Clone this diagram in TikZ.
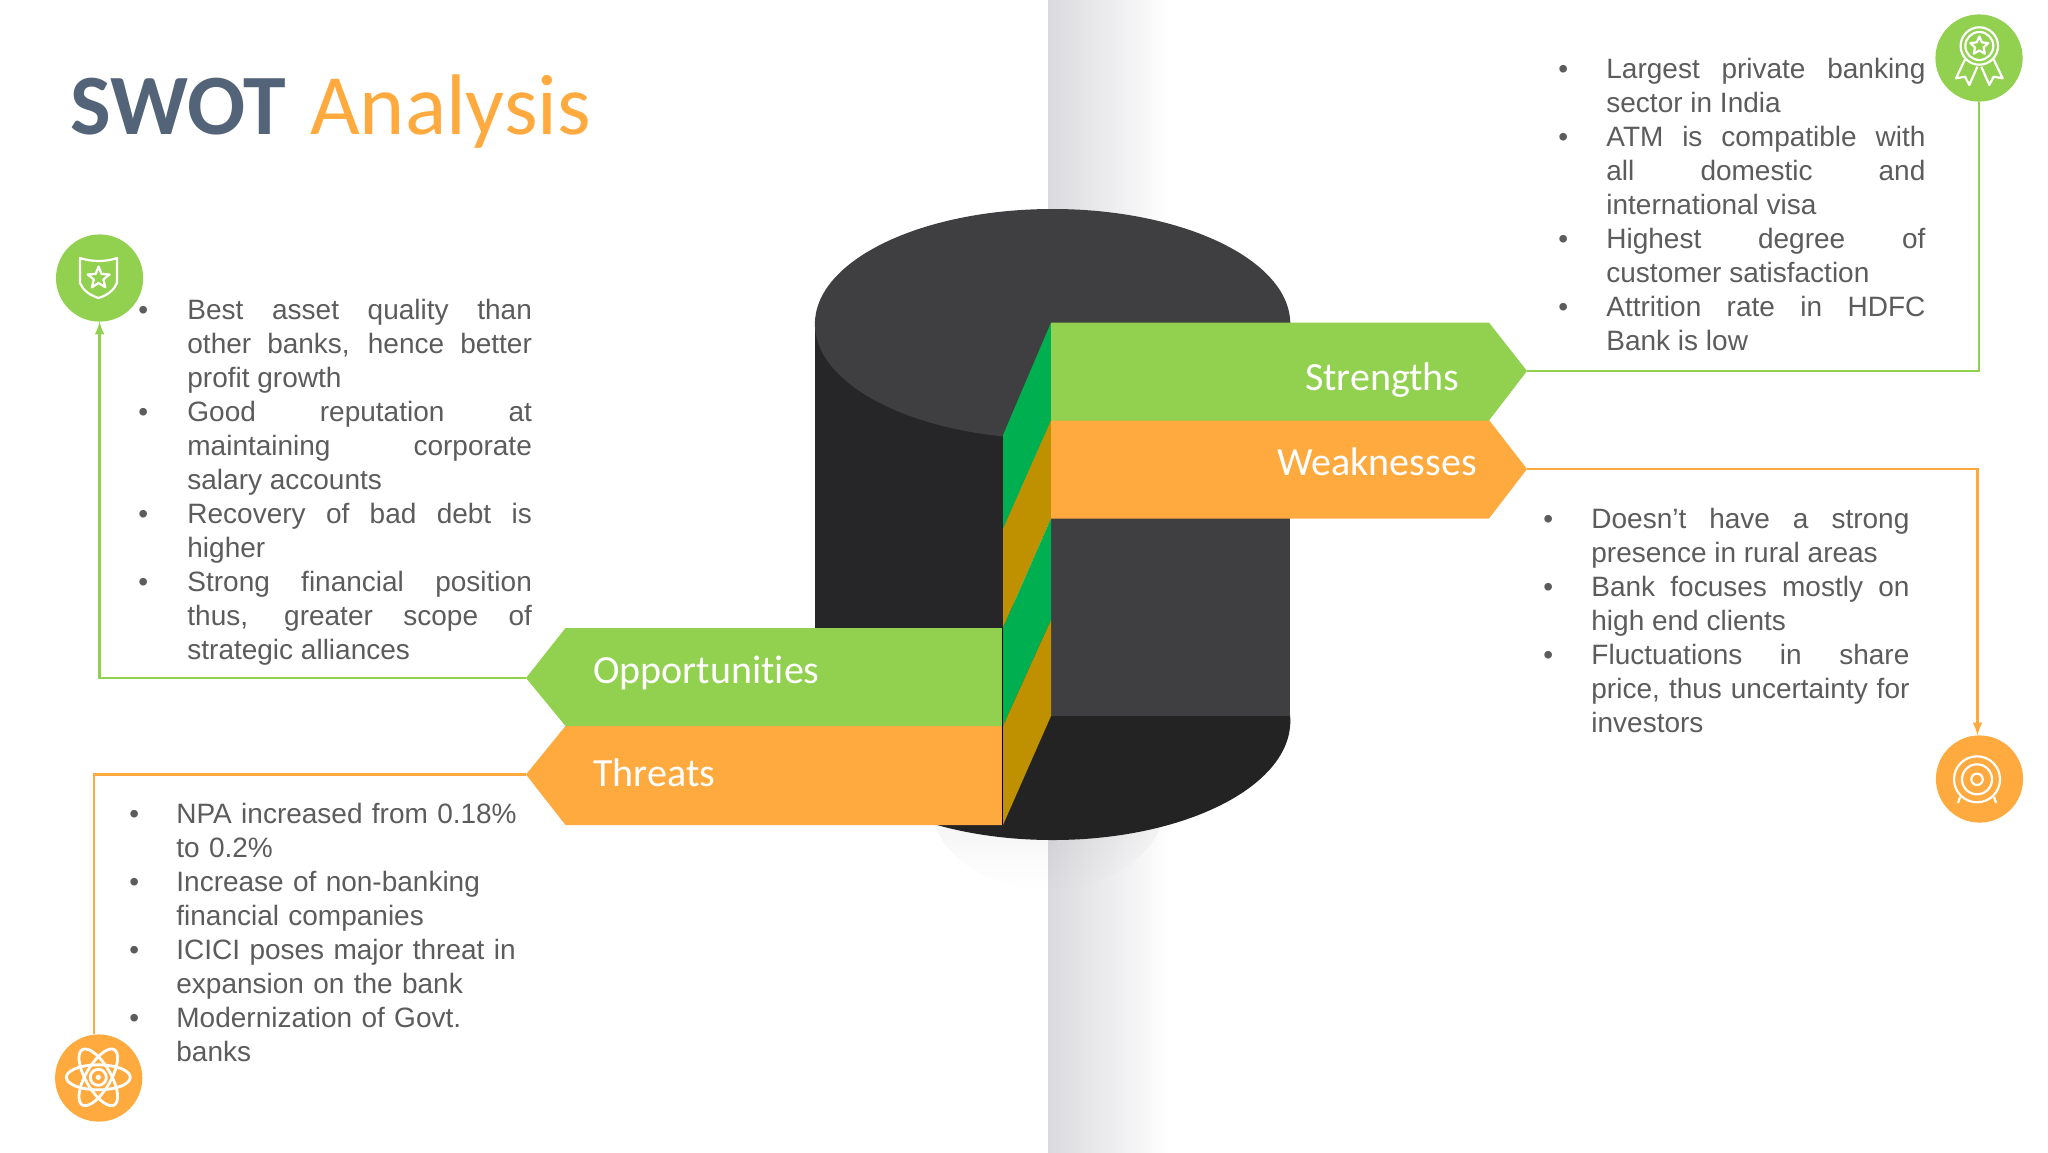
\documentclass[tikz,border=0pt]{standalone}
\usepackage{fontspec}
\setmainfont{Liberation Sans}
\newfontfamily\ribbonfont[Ligatures=NoCommon]{Carlito}
\usepackage{tikz}
\usetikzlibrary{fadings}
\definecolor{swotgreen}{HTML}{92D050}
\definecolor{swotorange}{HTML}{FFAA3F}
\definecolor{stripgreen}{HTML}{00B050}
\definecolor{striporange}{HTML}{BF9000}
\definecolor{cyltop}{HTML}{3F3E40}
\definecolor{cylside}{HTML}{262527}
\definecolor{cylbase}{HTML}{232323}
\definecolor{swotslate}{HTML}{536378}
\definecolor{swotgray}{HTML}{5C5C5C}
\definecolor{wallgray}{HTML}{DADADE}
\newenvironment{swotlist}[1]{\begin{list}{\textbullet}{\setlength\leftmargin{#1}\setlength\labelwidth{#1}\setlength\labelsep{0pt}\setlength\itemsep{0pt}\setlength\parsep{0pt}\setlength\topsep{0pt}\renewcommand\makelabel[1]{##1\hfil}}}{\end{list}}
\newcommand\iconstar[3]{\draw[iconline,shift={#1}] (270:#2) \foreach \k in {0,...,4} { -- ({270+72*\k}:#2) -- ({306+72*\k}:#3) } -- cycle;}
\tikzset{
  iconline/.style={draw=white, line width=1.1pt, line join=round},
  iconcircle/.style={circle, inner sep=0pt, outer sep=0pt, minimum size=43.6pt},
  connector/.style={line width=1.2pt},
  ribbonlabel/.style={text=white, font=\ribbonfont\fontsize{20}{24}\selectfont, inner sep=0pt},
  bodytext/.style={text=swotgray, anchor=north west, inner sep=0pt, align=justify, font=\fontsize{14}{17}\selectfont},
}
\begin{document}
\begin{tikzpicture}[x=0.5pt, y=-0.5pt]
        \useasboundingbox (0,0) rectangle (2048,1152);
        \fill[white] (0,0) rectangle (2048,1152);
        \shade[left color=wallgray, right color=white] (1048,0) rectangle (1170,1152);
        \fill[black, opacity=.10, path fading=south] (1048,800) ellipse[x radius=118, y radius=90];

        \fill[cylbase] (1052.6,721) ellipse[x radius=237.7, y radius=119];
        \fill[cylside] (815,324) rectangle (1003,721);
        \fill[cylbase] (1003,716) rectangle (1290.4,721);
        \fill[cyltop] (1052.6,324) ellipse[x radius=237.7, y radius=115];
        \fill[cyltop] (1051,518) rectangle (1290.4,716);

        \fill[stripgreen] (1051,322.6) -- (1051,421) -- (1003,530) -- (1003,435) -- cycle;
        \fill[striporange] (1051,420.5) -- (1051,518.5) -- (1003,628) -- (1003,529) -- cycle;
        \fill[stripgreen] (1051,518.5) -- (1051,620) -- (1003,726) -- (1003,628) -- cycle;
        \fill[striporange] (1051,620) -- (1051,716) -- (1003,825) -- (1003,726) -- cycle;

        \fill[swotorange] (1051,420) -- (1489,420) -- (1527,469) -- (1489,518.5) -- (1051,518.5) -- cycle;
        \fill[swotgreen] (1051,322.6) -- (1489,322.6) -- (1527,371) -- (1489,420.5) -- (1051,420.5) -- cycle;
        \fill[swotorange] (1002,726) -- (565.5,726) -- (526,774.5) -- (565.5,825) -- (1002,825) -- cycle;
        \fill[swotgreen] (1002,628) -- (565.5,628) -- (526,678) -- (565.5,726) -- (1002,726) -- cycle;
        \draw[black, line width=.5pt] (1002.6,628) -- (1002.6,825);

        \coordinate (strengthstip) at (1527,371);
        \coordinate (weaknessestip) at (1527,469);
        \coordinate (opportunitiestip) at (526,678);
        \coordinate (threatstip) at (526,774.5);

        \node[ribbonlabel, anchor=east] (strengths) at (1460,380) {Strengths};
        \node[ribbonlabel, anchor=east] (weaknesses) at (1477,462) {Weaknesses};
        \node[ribbonlabel, anchor=west] (opportunities) at (593,673) {Opportunities};
        \node[ribbonlabel, anchor=west] (threats) at (593,773) {Threats};

        \node[iconcircle, fill=swotgreen] (award) at (1979,58) {};
        \node[iconcircle, fill=swotorange] (target) at (1979.5,779) {};
        \node[iconcircle, fill=swotgreen] (shield) at (99.6,278) {};
        \node[iconcircle, fill=swotorange] (atom) at (98.7,1078) {};

        \draw[swotgreen, connector] (strengthstip) -| (award);
        \draw[swotorange, connector, -latex] (weaknessestip) -| ([xshift=-1pt]target.north);
        \draw[swotgreen, connector, -latex] (opportunitiestip) -| (shield);
        \draw[swotorange, connector] (threatstip) -| ([xshift=-2.3pt]atom.north);

        \node[anchor=base west, inner sep=0pt, font=\ribbonfont\fontsize{43}{50}\selectfont] (title) at (70,134) {\textcolor{swotslate}{\bfseries SWOT}\hspace{12pt}\textcolor{swotorange}{Analysis}};

        \node[bodytext, text width=183.5pt] (strengthstext) at (1558,44) {\begin{swotlist}{24pt}
        \item Largest private banking\linebreak sector in India
        \item ATM is compatible with\linebreak all domestic and\linebreak international visa
        \item Highest degree of\linebreak customer satisfaction
        \item Attrition rate in HDFC\linebreak Bank is low
        \end{swotlist}};
        \node[bodytext, text width=183pt] (weaknessestext) at (1543,494) {\begin{swotlist}{24pt}
        \item Doesn't have a strong\linebreak presence in rural areas
        \item Bank focuses mostly on\linebreak high end clients
        \item Fluctuations in share\linebreak price, thus uncertainty for\linebreak investors
        \end{swotlist}};
        \node[bodytext, text width=196.75pt] (opportunitiestext) at (138,285) {\begin{swotlist}{24.5pt}
        \item Best asset quality than\linebreak other banks, hence better\linebreak profit growth
        \item Good reputation at\linebreak maintaining corporate\linebreak salary accounts
        \item Recovery of bad debt is\linebreak higher
        \item Strong financial position\linebreak thus, greater scope of\linebreak strategic alliances
        \end{swotlist}};
        \node[bodytext, text width=200pt, align=left] (threatstext) at (129,789.5) {\begin{swotlist}{23.5pt}
        \item NPA increased from 0.18\%\newline to 0.2\%
        \item Increase of non-banking\newline financial companies
        \item ICICI poses major threat in\newline expansion on the bank
        \item Modernization of Govt.\newline banks
        \end{swotlist}};

        \draw[iconline] (1979.3,46) circle (18.7);
        \draw[iconline] (1979.3,46) circle (14);
        \iconstar{(1979.3,46)}{9.5}{4.5}
        \draw[iconline, shift={(1979.3,46)}] (-14.3,13.3) -- (-23.3,32.3) -- (-14.3,30.7) -- (-10,39) -- (-2,20.7);
        \draw[iconline, shift={(1979.3,46)}] (14.3,13.3) -- (23.3,32.3) -- (14.3,30.7) -- (10,39) -- (2,20.7);

        \draw[iconline] (80,258) .. controls (92,262) and (106,262) .. (117,258) -- (117,283) .. controls (114,290) and (108,295) .. (98.6,298) .. controls (89,295) and (83,290) .. (80,283) -- cycle;
        \iconstar{(98.6,278)}{11.5}{5}

        \draw[iconline] (1977,779.3) circle (23);
        \draw[iconline] (1977,779.3) circle (15);
        \draw[iconline] (1977,779.3) circle (5.7);
        \draw[iconline] (1960,797) -- (1958,803);
        \draw[iconline] (1994,797) -- (1996,803);

        \foreach \tilt in {0,60,120} {
          \draw[iconline, line width=1.4pt, shift={(98.3,1077.3)}] plot[smooth cycle, samples at={0,20,...,340}, variable=\t] ({32*cos(\t)*cos(\tilt)-12.5*sin(\t)*sin(\tilt)}, {32*cos(\t)*sin(\tilt)+12.5*sin(\t)*cos(\tilt)});
        }
        \draw[iconline, line width=1.4pt] (98.3,1077.3) circle (8);
        \fill[white] (98.3,1077.3) circle (2.6);
    \end{tikzpicture}
\end{document}
